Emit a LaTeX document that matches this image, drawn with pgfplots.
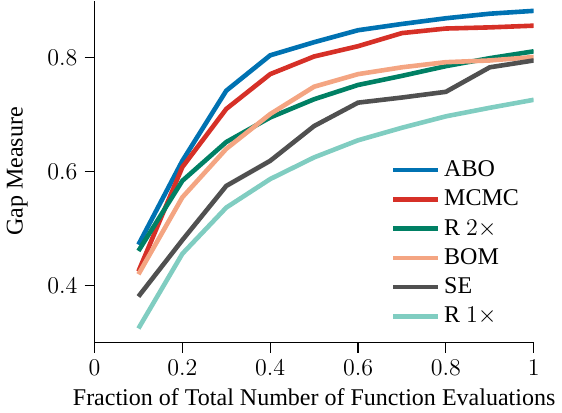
\documentclass[border=0pt]{standalone}
\usepackage{pgfplots}
\pgfplotsset{compat=1.18}
\usepackage{fontspec}
\setmainfont{Liberation Serif}

\definecolor{cABO}{RGB}{0,114,178}
\definecolor{cMCMC}{RGB}{214,48,39}
\definecolor{cRtwo}{RGB}{0,128,100}
\definecolor{cBOM}{RGB}{244,165,130}
\definecolor{cSE}{RGB}{80,80,80}
\definecolor{cRone}{RGB}{128,205,193}

\begin{document}
\begin{tikzpicture}
\begin{axis}[
  width=219.5pt, height=171pt, scale only axis,
  xmin=0, xmax=1, ymin=0.3, ymax=0.9,
  axis lines=left,
  axis line style={-, line width=0.6pt},
  tick align=outside, major tick length=5pt,
  tick style={line width=0.6pt, black},
  xtick={0,0.2,0.4,0.6,0.8,1},
  ytick={0.4,0.6,0.8},
  ticklabel style={font=\fontsize{11.5}{13}\selectfont},
  label style={font=\fontsize{12}{14}\selectfont},
  xlabel={Fraction of Total Number of Function Evaluations},
  ylabel={Gap Measure},
  ylabel shift=3pt,
  legend style={draw=none, fill=none, at={(0.99,0.025)}, anchor=south east,
    font=\fontsize{12}{14}\selectfont, row sep=1.2pt},
  legend cell align=left,
  legend image code/.code={\draw[#1] (0cm,0cm) -- (0.78cm,0cm);},
  every axis plot/.append style={line width=2.3pt, no marks},
]
\addplot[cABO] coordinates {(0.1,0.472) (0.2,0.619) (0.3,0.742) (0.4,0.804) (0.5,0.827) (0.6,0.848) (0.7,0.859) (0.8,0.869) (0.9,0.877) (1.0,0.882)};
\addlegendentry{ABO}
\addplot[cMCMC] coordinates {(0.1,0.425) (0.2,0.608) (0.3,0.710) (0.4,0.771) (0.5,0.802) (0.6,0.820) (0.7,0.843) (0.8,0.851) (0.9,0.853) (1.0,0.856)};
\addlegendentry{MCMC}
\addplot[cRtwo] coordinates {(0.1,0.461) (0.2,0.584) (0.3,0.652) (0.4,0.695) (0.5,0.727) (0.6,0.752) (0.7,0.768) (0.8,0.785) (0.9,0.799) (1.0,0.811)};
\addlegendentry{R $2\times$}
\addplot[cBOM] coordinates {(0.1,0.420) (0.2,0.555) (0.3,0.640) (0.4,0.701) (0.5,0.749) (0.6,0.771) (0.7,0.783) (0.8,0.792) (0.9,0.795) (1.0,0.801)};
\addlegendentry{BOM}
\addplot[cSE] coordinates {(0.1,0.381) (0.2,0.480) (0.3,0.575) (0.4,0.619) (0.5,0.680) (0.6,0.721) (0.7,0.730) (0.8,0.740) (0.9,0.783) (1.0,0.795)};
\addlegendentry{SE}
\addplot[cRone] coordinates {(0.1,0.325) (0.2,0.456) (0.3,0.537) (0.4,0.587) (0.5,0.625) (0.6,0.655) (0.7,0.677) (0.8,0.697) (0.9,0.712) (1.0,0.726)};
\addlegendentry{R $1\times$}
\end{axis}
\end{tikzpicture}
\end{document}
